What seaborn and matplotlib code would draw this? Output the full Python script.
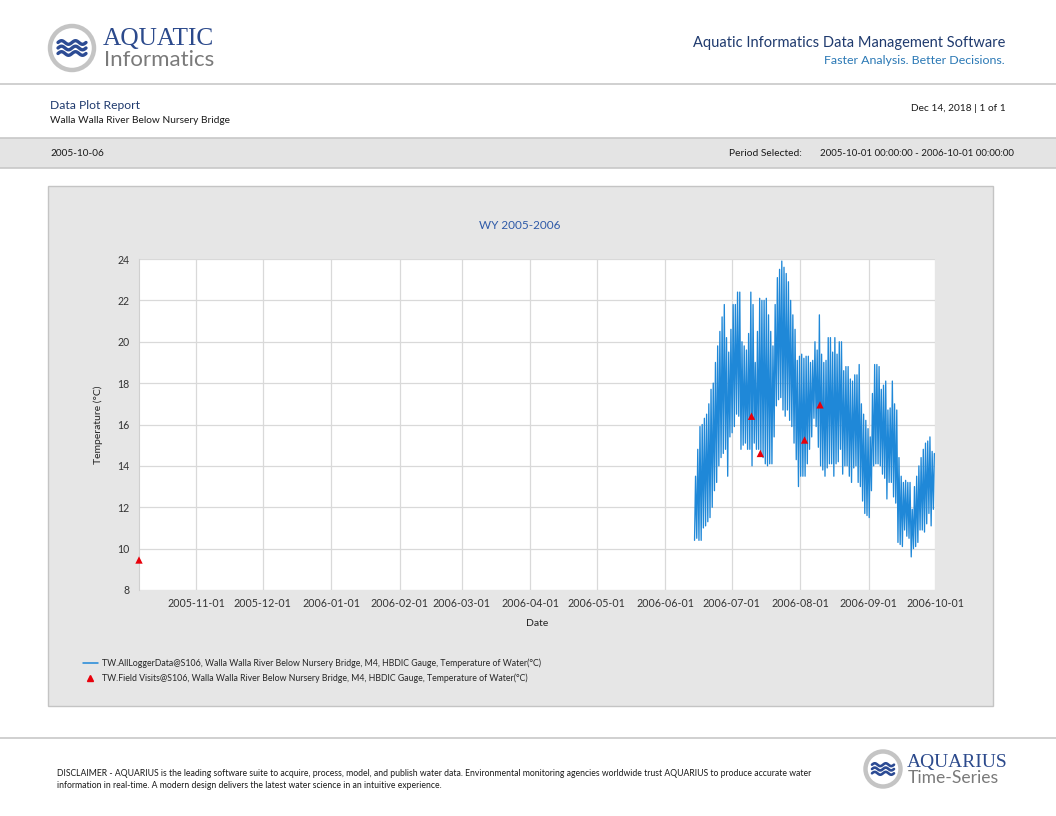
import numpy as np
import pandas as pd
import matplotlib.pyplot as plt
import matplotlib.dates as mdates
from matplotlib.patches import Circle, Rectangle
from matplotlib.lines import Line2D
import seaborn as sns

# ---- data ----
logger_start = "2006-06-14"
daily_max = [13.5, 14.8, 15.9, 16.0, 16.3, 16.5, 17.0, 17.7, 18.0, 19.0,
             19.8, 20.5, 21.2, 21.8, 20.2, 19.5, 20.6, 21.8, 21.8, 22.4,
             22.4, 20.0, 19.8, 19.6, 20.4, 22.4, 21.8, 19.0, 20.5, 22.1,
             22.0, 22.0, 22.1, 21.3, 20.5, 19.8, 21.8, 23.1, 23.5, 23.9,
             23.6, 23.3, 22.9, 22.0, 21.3, 20.6, 19.1, 19.3, 19.4, 19.2,
             19.3, 19.3, 19.0, 19.1, 20.0, 19.6, 21.3, 19.4, 19.0, 19.1,
             20.2, 20.2, 19.5, 20.2, 19.4, 20.0, 20.0, 18.6, 18.8, 18.8,
             18.2, 18.1, 18.4, 18.4, 18.9, 17.0, 16.5, 16.2, 15.8, 15.4,
             17.5, 18.9, 18.9, 18.8, 17.7, 17.9, 18.1, 16.7, 16.8, 18.1,
             17.0, 16.7, 14.4, 13.5, 13.2, 13.3, 13.2, 13.2, 11.9, 13.0,
             13.5, 14.0, 14.4, 14.8, 15.1, 15.2, 15.4, 14.7, 14.6]
daily_min = [10.4, 10.5, 10.4, 10.4, 11.0, 11.1, 11.3, 11.5, 12.0, 12.8,
             13.2, 14.0, 14.4, 14.6, 14.8, 13.5, 15.4, 15.6, 15.9, 16.5,
             16.4, 14.8, 15.0, 15.1, 14.8, 14.8, 14.0, 15.1, 14.8, 14.8,
             14.6, 14.4, 14.1, 14.0, 14.1, 14.1, 15.4, 16.9, 17.2, 17.3,
             16.7, 16.4, 16.7, 16.2, 15.9, 15.1, 14.3, 13.0, 13.5, 13.5,
             13.5, 14.1, 14.8, 15.4, 16.3, 15.9, 14.9, 14.0, 13.8, 13.5,
             13.9, 14.1, 14.1, 13.5, 14.1, 14.2, 14.8, 13.6, 14.0, 14.0,
             13.5, 13.2, 13.9, 14.0, 13.2, 13.0, 12.3, 11.7, 11.6, 11.5,
             12.8, 14.0, 14.1, 14.1, 14.0, 13.6, 13.4, 12.4, 13.2, 13.2,
             12.5, 12.2, 10.3, 10.2, 10.1, 10.9, 10.6, 10.5, 9.6, 10.0,
             10.1, 10.3, 10.9, 10.9, 10.8, 11.2, 11.7, 11.1, 11.9]
visit_dates = ["2005-10-06", "2006-07-10", "2006-07-14", "2006-08-03", "2006-08-10"]
visit_values = [9.45, 16.4, 14.6, 15.25, 16.95]

x_start, x_end = "2005-10-06", "2006-10-01"
month_ticks = pd.date_range("2005-11-01", "2006-10-01", freq="MS")
y_ticks = [8, 10, 12, 14, 16, 18, 20, 22, 24]

line_label = "TW.AllLoggerData@S106, Walla Walla River Below Nursery Bridge, M4, HBDIC Gauge, Temperature of Water(°C)"
visit_label = "TW.Field Visits@S106, Walla Walla River Below Nursery Bridge, M4, HBDIC Gauge, Temperature of Water(°C)"
disclaimer = ["DISCLAIMER - AQUARIUS is the leading software suite to acquire, process, model, and publish water data. "
              "Environmental monitoring agencies worldwide trust AQUARIUS to produce accurate water",
              "information in real-time. A modern design delivers the latest water science in an intuitive experience."]

# daily low in the morning, high in the afternoon
days = pd.date_range(logger_start, periods=len(daily_max), freq="D")
times, temps = [], []
for d, lo, hi in zip(days, daily_min, daily_max):
    times += [d + pd.Timedelta(hours=6), d + pd.Timedelta(hours=17)]
    temps += [lo, hi]
logger = pd.DataFrame({"Date": times, "Temp": temps})
visits = pd.DataFrame({"Date": pd.to_datetime(visit_dates), "Temp": visit_values})

sns.set_style("white")
plt.rcParams["font.family"] = ["Lato", "DejaVu Sans"]

W, H = 1056, 816
fig = plt.figure(figsize=(W / 100, H / 100), dpi=100)

# page decoration layer in pixel coordinates
deco = fig.add_axes([0, 0, 1, 1], zorder=0)
deco.set_xlim(0, W)
deco.set_ylim(H, 0)
deco.axis("off")

NAVY = "#1f3a6e"
GREY_LINE = "#c8c8c8"
TXT = "#1a1a1a"


def draw_logo(cx, cy, r, ww, amp, gap, lw):
    deco.add_patch(Circle((cx, cy), r, facecolor="white", edgecolor="#c4c4c4", lw=3.2))
    t = np.linspace(-1, 1, 80)
    for k in (-1, 0, 1):
        deco.plot(cx + t * ww, cy + k * gap - amp * np.sin(t * np.pi * 2), color="#2c4b94",
                  lw=lw, solid_capstyle="round")


# header
draw_logo(72, 48, 22, 14, 1.8, 5.5, 2.4)
deco.text(103, 45, "AQUATIC", family="Liberation Serif", fontsize=18.3, color="#2c4a8c", va="baseline")
deco.text(104, 66, "Informatics", fontsize=16, color="#7a7a7a", va="baseline")
deco.text(1005, 47, "Aquatic Informatics Data Management Software", fontsize=10.5, color=NAVY,
          ha="right", va="baseline")
deco.text(1005, 64, "Faster Analysis. Better Decisions.", fontsize=8.95, color="#2a78b5",
          ha="right", va="baseline")
deco.plot([0, W], [84, 84], color=GREY_LINE, lw=1.2)

deco.text(50, 109, "Data Plot Report", fontsize=8.7, color=NAVY, va="baseline")
deco.text(50, 123, "Walla Walla River Below Nursery Bridge", fontsize=7.3, color=TXT, va="baseline")
deco.text(1006, 111, "Dec 14, 2018 | 1 of 1", fontsize=7.3, color=TXT, ha="right", va="baseline")

deco.add_patch(Rectangle((0, 138), W, 30, facecolor="#e4e4e4", edgecolor="none"))
deco.plot([0, W], [138, 138], color=GREY_LINE, lw=1.2)
deco.plot([0, W], [168, 168], color=GREY_LINE, lw=1.2)
deco.text(50, 156, "2005-10-06", fontsize=7.2, color=TXT, va="baseline")
deco.text(729, 156, "Period Selected:", fontsize=7.4, color=TXT, va="baseline")
deco.text(1014, 156, "2005-10-01 00:00:00 - 2006-10-01 00:00:00", fontsize=7.0, color=TXT,
          ha="right", va="baseline")

# chart panel
deco.add_patch(Rectangle((48, 186), 945, 520, facecolor="#e6e6e6", edgecolor="#c4c4c4", lw=1.0))
deco.text(520, 229, "WY 2005-2006", fontsize=8.5, color="#2e5aa8", ha="center", va="baseline")

# footer
deco.plot([0, W], [738, 738], color=GREY_LINE, lw=1.2)
deco.text(57, 776, disclaimer[0], fontsize=6.2, color=TXT, va="baseline")
deco.text(57, 788, disclaimer[1], fontsize=6.2, color=TXT, va="baseline")
draw_logo(883, 769, 17.5, 11, 1.4, 4.3, 1.9)
deco.text(907, 767, "AQUARIUS", family="Liberation Serif", fontsize=14, color="#2c4a8c", va="baseline")
deco.text(908, 783, "Time-Series", fontsize=12.6, color="#7a7a7a", va="baseline")

# ---- the plot ----
ax = fig.add_axes([139 / W, 1 - 590 / H, 796 / W, 331 / H], zorder=2)
ax.set_facecolor("white")
sns.lineplot(data=logger, x="Date", y="Temp", color="#1f88d8", lw=0.95, ax=ax, label=line_label)
sns.scatterplot(data=visits, x="Date", y="Temp", marker="^", color="#e8000b", s=28,
                edgecolor="none", ax=ax, label=visit_label, zorder=3, clip_on=False)

ax.set_xlim(pd.Timestamp(x_start), pd.Timestamp(x_end))
ax.set_ylim(8, 24)
ax.set_xticks(month_ticks)
ax.xaxis.set_major_formatter(mdates.DateFormatter("%Y-%m-%d"))
ax.set_yticks(y_ticks)
ax.grid(True, color="#d9d9d9", lw=0.9)
ax.set_axisbelow(True)
for side in ["top", "right", "bottom"]:
    ax.spines[side].set_visible(False)
ax.spines["left"].set_color("#d0d0d0")
ax.tick_params(axis="y", length=3, color="#c0c0c0", labelsize=7.6, labelcolor="#333333", pad=4)
ax.tick_params(axis="x", length=0, labelsize=7.7, labelcolor="#333333", pad=6)
ax.set_xlabel("Date", fontsize=7.5, color="#222222", labelpad=7)
ax.set_ylabel("Temperature (°C)", fontsize=7.5, color="#222222", labelpad=10)

handles = [Line2D([], [], color="#1f88d8", lw=1.1),
           Line2D([], [], marker="^", ls="none", color="#e8000b", markersize=5)]
ax.legend(handles, [line_label, visit_label], loc="upper left", bbox_to_anchor=(79 / W, 1 - 655 / H),
          bbox_transform=fig.transFigure, frameon=False, fontsize=6.35, handlelength=1.7,
          handletextpad=0.5, labelspacing=0.65, borderaxespad=0)

fig.savefig("out.png", dpi=100)
plt.close(fig)
